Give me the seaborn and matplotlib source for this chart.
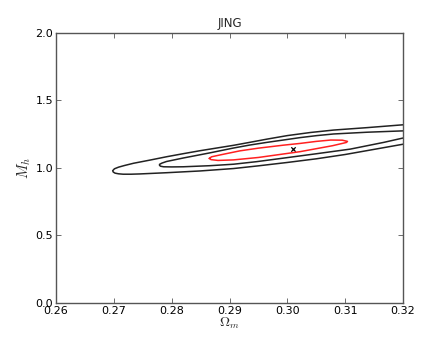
import pandas as pd
import matplotlib
matplotlib.use('Agg')
import matplotlib.pyplot as plt
import seaborn as sns

# contour outlines (Omega_m, M_h)
outer_x = [0.3200, 0.3138, 0.3080, 0.3040, 0.3000, 0.2965, 0.2935, 0.2907, 0.2878,
           0.2849, 0.2820, 0.2792, 0.2763, 0.2734, 0.2718, 0.2708, 0.2701, 0.2698,
           0.2699, 0.2702, 0.2708, 0.2716, 0.2730, 0.2745, 0.2791, 0.2849, 0.2907,
           0.2950, 0.3000, 0.3050, 0.3100, 0.3150, 0.3200]
outer_y = [1.320, 1.299, 1.281, 1.263, 1.240, 1.214, 1.190, 1.168, 1.148,
           1.128, 1.106, 1.084, 1.059, 1.035, 1.018, 1.006, 0.994, 0.980,
           0.970, 0.962, 0.957, 0.954, 0.954, 0.956, 0.965, 0.978, 0.996,
           1.016, 1.041, 1.068, 1.100, 1.138, 1.176]

middle_x = [0.3200, 0.3138, 0.3080, 0.3051, 0.3022, 0.2965, 0.2935, 0.2907, 0.2866,
            0.2820, 0.2791, 0.2783, 0.2779, 0.2779, 0.2781, 0.2786, 0.2800, 0.2820,
            0.2866, 0.2907, 0.2947, 0.2993, 0.3051, 0.3109, 0.3167, 0.3200]
middle_y = [1.275, 1.265, 1.252, 1.240, 1.225, 1.190, 1.170, 1.148, 1.112,
            1.074, 1.048, 1.036, 1.027, 1.019, 1.013, 1.009, 1.008, 1.009,
            1.017, 1.028, 1.047, 1.073, 1.106, 1.140, 1.190, 1.222]

red_x = [0.2865, 0.2869, 0.2884, 0.2918, 0.2950, 0.2993, 0.3022, 0.3050, 0.3075,
         0.3095, 0.3104, 0.3102, 0.3094, 0.3078, 0.3022, 0.2950, 0.2907, 0.2880,
         0.2868, 0.2865]
red_y = [1.071, 1.083, 1.097, 1.127, 1.147, 1.169, 1.182, 1.197, 1.207,
         1.206, 1.197, 1.189, 1.181, 1.165, 1.121, 1.078, 1.060, 1.056,
         1.062, 1.071]

best_x = [0.3010]
best_y = [1.140]

x_ticks = [0.26, 0.27, 0.28, 0.29, 0.30, 0.31, 0.32]
y_ticks = [0.0, 0.5, 1.0, 1.5, 2.0]

sns.set_style("ticks")
plt.rcParams['font.family'] = ['DejaVu Sans']
plt.rcParams['mathtext.fontset'] = 'cm'

fig = plt.figure(figsize=(4.47, 3.37), dpi=100)
ax = fig.add_axes([0.1253, 0.1009, 0.7763, 0.8012])

sns.lineplot(x=outer_x, y=outer_y, sort=False, estimator=None, color='#222222',
             lw=1.1, ax=ax)
sns.lineplot(x=middle_x, y=middle_y, sort=False, estimator=None, color='#222222',
             lw=1.1, ax=ax)
sns.lineplot(x=red_x, y=red_y, sort=False, estimator=None, color='#ff2020',
             lw=1.1, ax=ax)
sns.scatterplot(x=best_x, y=best_y, marker='x', color='black', s=10,
                linewidth=0.9, ax=ax)

ax.set_xlim(0.26, 0.32)
ax.set_ylim(0.0, 2.0)
ax.set_xticks(x_ticks)
ax.set_xticklabels([f'{t:.2f}' for t in x_ticks])
ax.set_yticks(y_ticks)
ax.set_yticklabels([f'{t:.1f}' for t in y_ticks])
ax.tick_params(direction='in', length=3.5, width=0.6, labelsize=8, pad=2,
               top=True, right=True, colors='#555555', labelcolor='black')
for s in ax.spines.values():
    s.set_color('#555555')
    s.set_linewidth(1.0)

ax.set_title('JING', fontsize=8.5, pad=4)
ax.set_xlabel(r'$\Omega_m$', fontsize=10, labelpad=0)
ax.set_ylabel(r'$M_h$', fontsize=10.5, labelpad=2)

fig.savefig('out.png', dpi=100)
